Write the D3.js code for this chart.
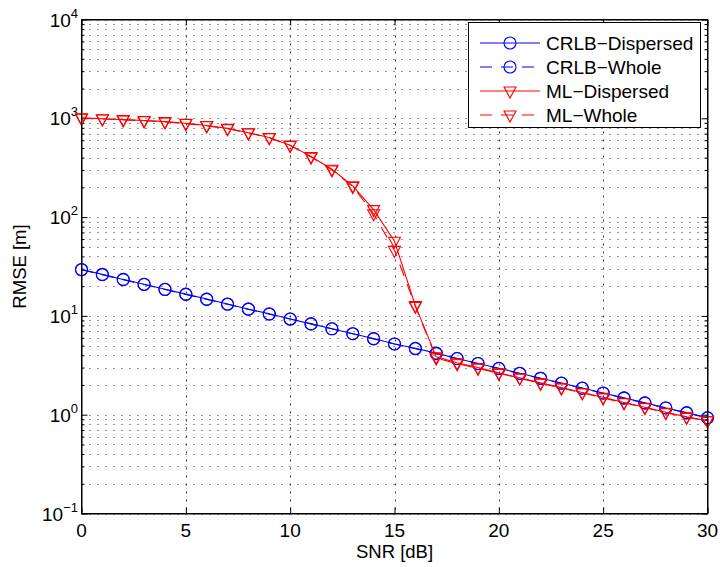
<!DOCTYPE html>
<html>
<head>
<meta charset="utf-8">
<script src="https://cdn.jsdelivr.net/npm/d3@7/dist/d3.min.js"></script>
<style>
body { margin: 0; background: #fff; }
text { font-family: "Liberation Sans", Arial, Helvetica, sans-serif; fill: #000; }
.hgrid line { stroke: #333; stroke-width: 1; stroke-dasharray: 1,7; }
.vgrid line { stroke: #333; stroke-width: 1; stroke-dasharray: 2,6; }
.axis path, .axis line { stroke: #000; stroke-width: 1; }
</style>
</head>
<body>
<div id="drawingArea"></div>
<script>
// SNR values (x axis)
var snr = [0,1,2,3,4,5,6,7,8,9,10,11,12,13,14,15,16,17,18,19,20,21,22,23,24,25,26,27,28,29,30];

// series
var crlbDispersed = [29.5,26.3,23.4,20.9,18.6,16.6,14.8,13.2,11.7,10.5,9.3,8.3,7.4,6.6,5.9,5.2,4.7,4.2,3.7,3.3,2.95,2.63,2.34,2.09,1.86,1.66,1.48,1.32,1.17,1.05,0.93];
var crlbWhole     = [29.3,26.1,23.3,20.8,18.5,16.5,14.7,13.1,11.7,10.4,9.3,8.3,7.4,6.6,5.85,5.2,4.65,4.15,3.7,3.3,2.93,2.61,2.33,2.08,1.85,1.65,1.47,1.31,1.17,1.04,0.93];
var mlDispersed   = [1010,990,970,950,925,890,845,790,715,640,535,410,305,207,119,57,12.7,3.85,3.35,3.0,2.65,2.37,2.1,1.88,1.68,1.5,1.33,1.19,1.06,0.95,0.87];
var mlWhole       = [1000,985,965,945,920,885,840,785,710,635,530,405,300,204,108,46,12.5,3.75,3.28,2.95,2.62,2.34,2.08,1.86,1.66,1.48,1.32,1.18,1.05,0.94,0.87];

var xTicks = [0,5,10,15,20,25,30];
var yExponents = [-1,0,1,2,3,4];
var legendLabels = ["CRLB\u2212Dispersed","CRLB\u2212Whole","ML\u2212Dispersed","ML\u2212Whole"];

// dimensions
var W = 720, H = 567;
var pLeft = 81.5, pRight = 707.5, pTop = 19.5, pBottom = 513.5;

var svg = d3.select("#drawingArea").append("svg")
    .attr("width", W)
    .attr("height", H);

var x = d3.scaleLinear().domain([0, 30]).range([pLeft, pRight]);
var y = d3.scaleLog().domain([0.1, 1e4]).range([pBottom, pTop]);

// minor + major y values for the grid
var yMajor = yExponents.map(function(e) { return Math.pow(10, e); });
var yMinor = [];
yExponents.slice(0, -1).forEach(function(e) {
    for (var k = 2; k <= 9; k++) yMinor.push(k * Math.pow(10, e));
});
var yAll = yMajor.concat(yMinor);

// horizontal dotted grid
svg.append("g").attr("class", "hgrid")
  .selectAll("line").data(yAll).enter().append("line")
    .attr("x1", pLeft).attr("x2", pRight)
    .attr("y1", function(d) { return Math.round(y(d)) + 0.5; })
    .attr("y2", function(d) { return Math.round(y(d)) + 0.5; });

// vertical dotted grid
svg.append("g").attr("class", "vgrid")
  .selectAll("line").data(xTicks.slice(1, -1)).enter().append("line")
    .attr("x1", function(d) { return Math.round(x(d)) + 0.5; })
    .attr("x2", function(d) { return Math.round(x(d)) + 0.5; })
    .attr("y1", pTop).attr("y2", pBottom);

// axes (ticks point inward, box on)
svg.append("g").attr("class", "axis")
  .attr("transform", "translate(0," + pBottom + ")")
  .call(d3.axisBottom(x).tickValues(xTicks).tickSize(-6).tickFormat("").tickSizeOuter(0));
svg.append("g").attr("class", "axis")
  .attr("transform", "translate(0," + pTop + ")")
  .call(d3.axisTop(x).tickValues(xTicks).tickSize(-6).tickFormat("").tickSizeOuter(0));
svg.append("g").attr("class", "axis")
  .attr("transform", "translate(" + pLeft + ",0)")
  .call(d3.axisLeft(y).tickValues(yMajor).tickSize(-6).tickFormat("").tickSizeOuter(0));
svg.append("g").attr("class", "axis")
  .attr("transform", "translate(" + pLeft + ",0)")
  .call(d3.axisLeft(y).tickValues(yMinor).tickSize(-3).tickFormat("").tickSizeOuter(0))
  .select("path").remove();
svg.append("g").attr("class", "axis")
  .attr("transform", "translate(" + pRight + ",0)")
  .call(d3.axisRight(y).tickValues(yMajor).tickSize(-6).tickFormat("").tickSizeOuter(0));
svg.append("g").attr("class", "axis")
  .attr("transform", "translate(" + pRight + ",0)")
  .call(d3.axisRight(y).tickValues(yMinor).tickSize(-3).tickFormat("").tickSizeOuter(0))
  .select("path").remove();

// x tick labels
svg.append("g").selectAll("text").data(xTicks).enter().append("text")
    .attr("x", function(d) { return x(d); })
    .attr("y", 537)
    .style("text-anchor", "middle")
    .style("font-size", "19px")
    .text(function(d) { return d; });

// y tick labels 10^e
var yl = svg.append("g").selectAll("text").data(yExponents).enter().append("text")
    .attr("x", 78)
    .attr("y", function(d) { return y(Math.pow(10, d)) + 7; })
    .style("text-anchor", "end")
    .style("font-size", "19px");
yl.each(function(d) {
    var t = d3.select(this);
    t.append("tspan").text("10");
    t.append("tspan").attr("dy", -9).style("font-size", "13px").text(d < 0 ? "\u2212" + (-d) : d);
});

// axis labels
svg.append("text")
    .attr("x", (pLeft + pRight) / 2)
    .attr("y", 558)
    .style("text-anchor", "middle")
    .style("font-size", "18.5px")
    .text("SNR [dB]");
svg.append("text")
    .attr("transform", "translate(26," + ((pTop + pBottom) / 2) + ") rotate(-90)")
    .style("text-anchor", "middle")
    .style("font-size", "18.5px")
    .text("RMSE [m]");

// series
var series = [
    {values: crlbDispersed, color: "#0000ff", dash: null, marker: "circle"},
    {values: crlbWhole, color: "#0000ff", dash: "12,9", marker: "circle"},
    {values: mlDispersed, color: "#ff0000", dash: null, marker: "tri"},
    {values: mlWhole, color: "#ff0000", dash: "12,9", marker: "tri"}
];

var line = d3.line()
    .x(function(d, i) { return x(snr[i]); })
    .y(function(d) { return y(d); });

var triPath = "M-6,-4L6,-4L0,7Z";

function drawMarker(g, m, color) {
    if (m === "circle") {
        g.append("circle").attr("r", 6)
          .attr("fill", "none").attr("stroke", color).attr("stroke-width", 1.1);
    } else {
        g.append("path").attr("d", triPath)
          .attr("fill", "none").attr("stroke", color).attr("stroke-width", 1.1);
    }
}

series.forEach(function(s) {
    svg.append("path")
      .datum(s.values)
      .attr("d", line)
      .attr("fill", "none")
      .attr("stroke", s.color)
      .attr("stroke-width", 1.1)
      .attr("stroke-dasharray", s.dash);
    s.values.forEach(function(v, i) {
        var g = svg.append("g").attr("transform", "translate(" + x(snr[i]) + "," + y(v) + ")");
        drawMarker(g, s.marker, s.color);
    });
});

// box outline
svg.append("rect")
    .attr("x", pLeft).attr("y", pTop)
    .attr("width", pRight - pLeft).attr("height", pBottom - pTop)
    .attr("fill", "none").attr("stroke", "#000").attr("stroke-width", 1);

// legend
var lg = svg.append("g");
lg.append("rect")
    .attr("x", 468.5).attr("y", 22.5)
    .attr("width", 232).attr("height", 105)
    .attr("fill", "#fff").attr("stroke", "#000").attr("stroke-width", 1);
series.forEach(function(s, i) {
    var yy = 43 + i * 24;
    lg.append("line")
      .attr("x1", 480).attr("x2", 540)
      .attr("y1", yy).attr("y2", yy)
      .attr("stroke", s.color).attr("stroke-width", 1.1)
      .attr("stroke-dasharray", s.dash);
    drawMarker(lg.append("g").attr("transform", "translate(510," + yy + ")"), s.marker, s.color);
    lg.append("text")
      .attr("x", 546).attr("y", yy + 7)
      .style("font-size", "19px")
      .text(legendLabels[i]);
});
</script>
</body>
</html>
